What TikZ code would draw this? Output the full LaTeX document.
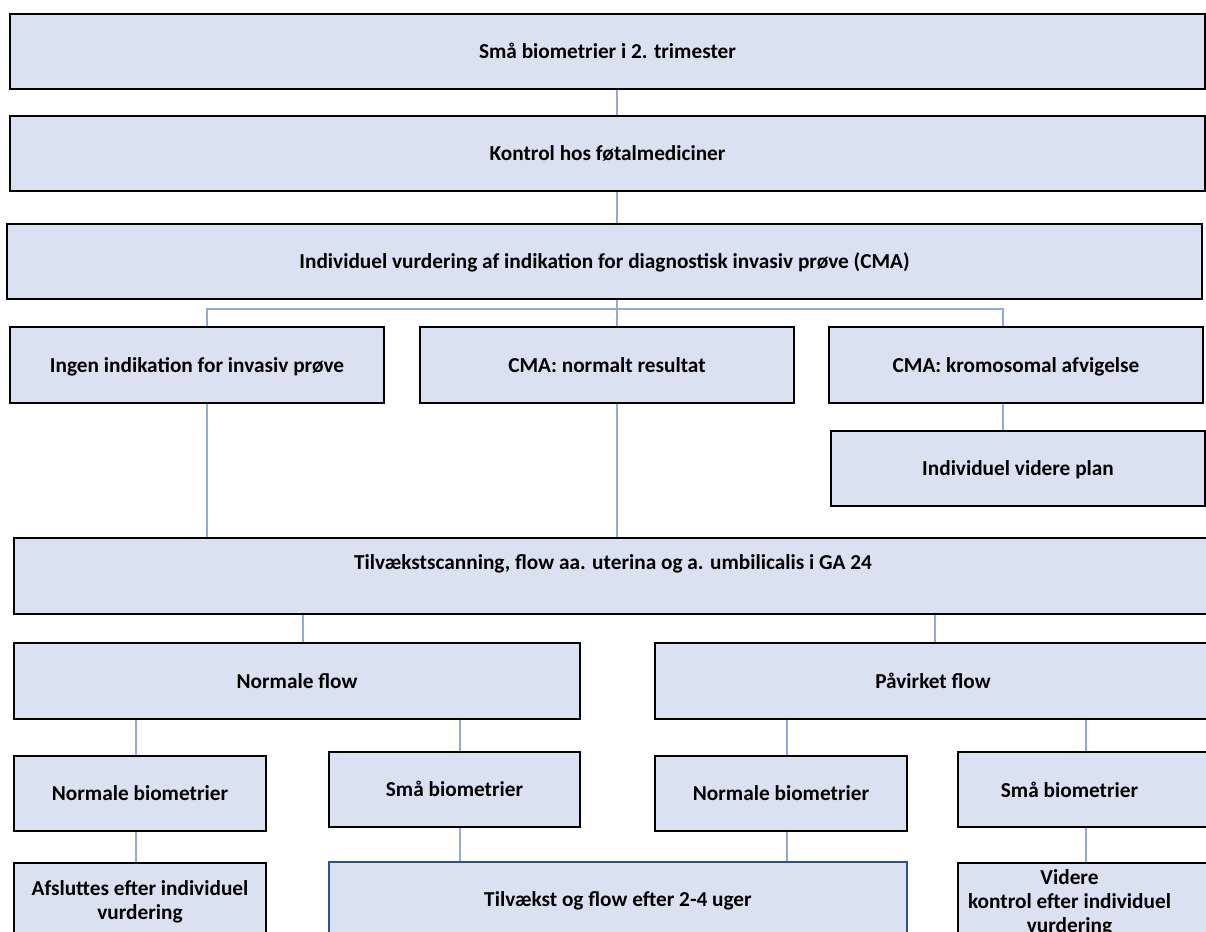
\documentclass[tikz,border=0pt]{standalone}
\usepackage{fontspec}
\setmainfont{Carlito}
\usetikzlibrary{positioning,calc}
\definecolor{boxfill}{RGB}{218,226,241}
\definecolor{linkblue}{RGB}{143,170,220}
\definecolor{darkblue}{RGB}{47,82,143}
\tikzset{
  boxtext/.style = {align=center, inner sep=0pt,
    font=\fontsize{21.3}{24}\selectfont\bfseries},
  flowbox/.style = {boxtext, rectangle, draw=black, fill=boxfill,
    line width=2pt, anchor=north west, text height=17pt, text depth=3pt},
  boxsize/.style 2 args = {minimum width=#1, minimum height=#2},% in pt
  link/.style = {draw=linkblue, line width=1.2pt}
}

\begin{document}
\begin{tikzpicture}[x=1pt,y=-1pt]
\useasboundingbox (0,0) rectangle (1206,931);
\clip (0,0) rectangle (1206,931);
% top part
\node (small) [flowbox, boxsize={1195}{75}] at (9,13) {Små biometrier i 2. trimester};
\node (ctrl) [flowbox, boxsize={1195}{75}] at (9,115) {Kontrol hos føtalmediciner};
\node (assess) [flowbox, boxsize={1195}{75}] at (6,223)
  {Individuel vurdering af indikation for diagnostisk invasiv prøve (CMA)};
\node (noinv) [flowbox, boxsize={374}{76}] at (9,326) {Ingen indikation for invasiv prøve};
\node (cmanorm) [flowbox, boxsize={374}{76}] at (419,326) {CMA: normalt resultat};
\node (cmaabn) [flowbox, boxsize={374}{76}] at (828,326) {CMA: kromosomal afvigelse};
\node (plan) [flowbox, boxsize={374}{75}] at (830,430) {Individuel videre plan};
% growth scan
\node (growth) [flowbox, boxsize={1198}{76},
  label={[boxtext, yshift=12]center:Tilvækstscanning, flow aa. uterina og a. umbilicalis i GA 24}]
  at (13,537) {};
\node (nflow) [flowbox, boxsize={566}{76}] at (13,642) {Normale flow};
\node (pflow) [flowbox, boxsize={556}{76}] at (654,642) {Påvirket flow};
\node (nbioA) [flowbox, boxsize={252}{75}] at (13,755) {Normale biometrier};
\node (sbioA) [flowbox, boxsize={251}{75}] at (328,751) {Små biometrier};
\node (nbioB) [flowbox, boxsize={252}{75}] at (654,755) {Normale biometrier};
\node (sbioB) [flowbox, boxsize={283}{75},
  label={[boxtext, xshift=-30]center:Små biometrier}] at (957,751) {};
% bottom row
\node (stop) [flowbox, text height=, text depth=, boxsize={252}{78}] at (13,862)
  {Afsluttes efter individuel\\vurdering};
\node (recheck) [flowbox, draw=darkblue, boxsize={578}{75}] at (328,861)
  {Tilvækst og flow efter 2-4 uger};
\node (further) [flowbox, boxsize={283}{76},
  label={[boxtext, xshift=-30, yshift=-2]center:Videre\\kontrol efter individuel\\vurdering}]
  at (957,862) {};
% connectors
\coordinate (xA) at (617,0);
\coordinate (xB) at (207,0);
\coordinate (xC) at (1003,0);
\coordinate (bus) at (617,309);
\draw[link] (small.south -| xA) -- (ctrl.north -| xA);
\draw[link] (ctrl.south -| xA) -- (assess.north -| xA);
\draw[link] (assess.south -| bus) -- (bus);
\draw[link] (noinv.north -| xB) |- (bus) -| (cmaabn.north -| xC);
\draw[link] (bus) -- (cmanorm.north -| bus);
\draw[link] (cmaabn.south -| xC) -- (plan.north -| xC);
\draw[link] (noinv.south -| xB) -- (growth.north -| xB);
\draw[link] (cmanorm.south -| xA) -- (growth.north -| xA);
\foreach \x/\from/\to in {303/growth/nflow, 935/growth/pflow,
    136/nflow/nbioA, 460/nflow/sbioA, 787/pflow/nbioB, 1086/pflow/sbioB,
    136/nbioA/stop, 460/sbioA/recheck, 787/nbioB/recheck, 1086/sbioB/further}
  \draw[link] (\from.south -| \x,0) -- (\to.north -| \x,0);
\end{tikzpicture}
\end{document}
